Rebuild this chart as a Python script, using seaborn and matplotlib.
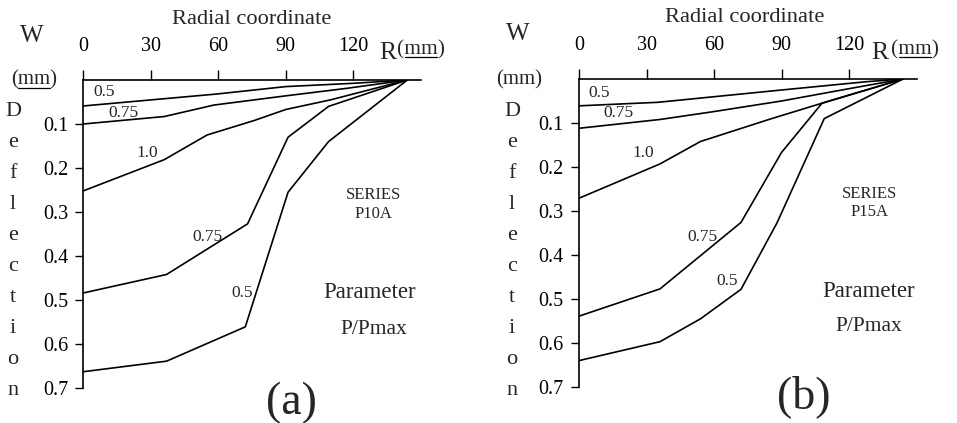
import numpy as np
import pandas as pd
import matplotlib
matplotlib.use("Agg")
import matplotlib.pyplot as plt
from matplotlib.lines import Line2D
import seaborn as sns

# ---- panel (a) : series P10A, radial coordinate R (mm) vs deflection W (mm)
a_r_050_top = [0, 59, 90, 120, 144]
a_w_050_top = [0.059, 0.032, 0.015, 0.0075, 0.0]
a_r_075_top = [0, 36, 58, 90, 117, 144]
a_w_075_top = [0.100, 0.083, 0.057, 0.036, 0.019, 0.0]
a_r_100 = [0, 36, 55, 76, 90, 110, 144]
a_w_100 = [0.252, 0.181, 0.125, 0.092, 0.067, 0.045, 0.0]
a_r_075 = [0, 37, 73, 91, 109, 144]
a_w_075 = [0.484, 0.442, 0.327, 0.130, 0.060, 0.0]
a_r_050 = [0, 37, 72, 91, 109, 144]
a_w_050 = [0.663, 0.639, 0.561, 0.255, 0.140, 0.0]

# ---- panel (b) : series P15A
b_r_050_top = [0, 35, 90, 128, 144]
b_w_050_top = [0.061, 0.053, 0.025, 0.006, 0.0]
b_r_075_top = [0, 36, 60, 90, 120, 144]
b_w_075_top = [0.112, 0.092, 0.074, 0.050, 0.022, 0.0]
b_r_100 = [0, 36, 54, 85, 108, 144]
b_w_100 = [0.271, 0.193, 0.142, 0.091, 0.055, 0.0]
b_r_075 = [0, 36, 72, 90, 108, 144]
b_w_075 = [0.539, 0.477, 0.326, 0.167, 0.055, 0.0]
b_r_050 = [0, 36, 54, 72, 88, 109, 144]
b_w_050 = [0.640, 0.597, 0.545, 0.478, 0.327, 0.090, 0.0]

x_ticks = [0, 30, 60, 90, 120]
y_ticks = [0.1, 0.2, 0.3, 0.4, 0.5, 0.6, 0.7]
y_ticklabels = ["0.1", "0.2", "0.3", "0.4", "0.5", "0.6", "0.7"]

sns.set_theme(style="white")
plt.rcParams["font.family"] = ["Liberation Serif", "DejaVu Serif"]

W, H = 957, 423
fig = plt.figure(figsize=(W / 100, H / 100), dpi=100)


def px(x, y):
    return x / W, 1 - y / H


def underline(cx, cy, half):
    (x0, y0), (x1, _) = px(cx - half, cy), px(cx + half, cy)
    fig.add_artist(Line2D([x0, x1], [y0, y0], color="black", lw=0.9,
                          transform=fig.transFigure))


panels = [
    {
        "left": 83.3, "top": 80,
        "curves": [(a_r_050_top, a_w_050_top), (a_r_075_top, a_w_075_top),
                   (a_r_100, a_w_100), (a_r_075, a_w_075), (a_r_050, a_w_050)],
        "labels": [("0.5", 4.4, 0.027), ("0.75", 11, 0.076), ("1.0", 23.7, 0.166),
                   ("0.75", 48.6, 0.357), ("0.5", 66, 0.484)],
        "series": "SERIES\nP10A", "series_pos": (129, 0.283),
        "param_pos": (127.4, 0.484), "pmax_pos": (129, 0.566),
        "tag": "(a)", "tag_pos": (92.7, 0.734),
        "title_px": (252, 20), "w_px": (32, 36), "mm_px": (34, 80),
        "r_px": (388, 53), "rmm_px": (421, 50), "defl_x": 13, "underline": True,
    },
    {
        "left": 579, "top": 79,
        "curves": [(b_r_050_top, b_w_050_top), (b_r_075_top, b_w_075_top),
                   (b_r_100, b_w_100), (b_r_075, b_w_075), (b_r_050, b_w_050)],
        "labels": [("0.5", 4.2, 0.032), ("0.75", 10.8, 0.078), ("1.0", 23.8, 0.169),
                   ("0.75", 48.1, 0.358), ("0.5", 61, 0.46)],
        "series": "SERIES\nP15A", "series_pos": (129.3, 0.282),
        "param_pos": (128.6, 0.483), "pmax_pos": (128.6, 0.563),
        "tag": "(b)", "tag_pos": (99.7, 0.722),
        "title_px": (745, 18), "w_px": (518, 34), "mm_px": (519, 80),
        "r_px": (880, 53), "rmm_px": (915, 50), "defl_x": 512, "underline": False,
    },
]

for p in panels:
    left, bottom = px(p["left"], p["top"] + 0.7 * 440)
    ax = fig.add_axes([left, bottom, 150 * 2.25 / W, 0.7 * 440 / H])
    ax.set_facecolor("none")

    for r, w in p["curves"]:
        sns.lineplot(x=r, y=w, ax=ax, color="black", lw=1.2,
                     estimator=None, sort=False, legend=False)

    ax.set_xlim(0, 150)
    ax.set_ylim(0.7, 0)
    ax.xaxis.tick_top()
    ax.set_xticks(x_ticks)
    ax.set_xticklabels([str(t) for t in x_ticks])
    ax.set_yticks(y_ticks)
    ax.set_yticklabels(y_ticklabels)
    ax.tick_params(axis="x", direction="out", length=7, width=1, pad=10,
                   labelsize=14.5, colors="black", top=True, bottom=False)
    ax.tick_params(axis="y", direction="out", length=6, width=1, pad=5,
                   labelsize=14.5, colors="black", left=True)
    for side in ["bottom", "right"]:
        ax.spines[side].set_visible(False)
    for side in ["top", "left"]:
        ax.spines[side].set_color("black")
        ax.spines[side].set_linewidth(1.2)
    ax.set_xlabel("")
    ax.set_ylabel("")

    for txt, x, y in p["labels"]:
        ax.text(x, y, txt, fontsize=12.5, ha="left", va="center")
    ax.text(*p["series_pos"], p["series"], fontsize=12, ha="center",
            va="center", linespacing=1.2)
    ax.text(*p["param_pos"], "Parameter", fontsize=16.5, ha="center", va="center")
    ax.text(*p["pmax_pos"], "P/Pmax", fontsize=15.5, ha="center", va="center")
    ax.text(*p["tag_pos"], p["tag"], fontsize=33, ha="center", va="center",
            clip_on=False)

    # labels outside the axes
    fig.text(*px(*p["title_px"]), "Radial coordinate", fontsize=16.2,
             ha="center", va="center")
    fig.text(*px(*p["w_px"]), "W", fontsize=18, ha="center", va="center")
    fig.text(*px(*p["mm_px"]), "(mm)", fontsize=15, ha="center", va="center")
    if p["underline"]:
        underline(p["mm_px"][0], p["mm_px"][1] + 8, 16)
    fig.text(*px(*p["r_px"]), "R", fontsize=18.5, ha="center", va="center")
    fig.text(*px(*p["rmm_px"]), "(mm)", fontsize=15.5, ha="center", va="center")
    underline(p["rmm_px"][0], p["rmm_px"][1] + 7, 16)
    for i, ch in enumerate("Deflection"):
        fig.text(*px(p["defl_x"], 112 + i * 30.9), ch, fontsize=16,
                 ha="center", va="center")

fig.savefig("out.png", dpi=100)
